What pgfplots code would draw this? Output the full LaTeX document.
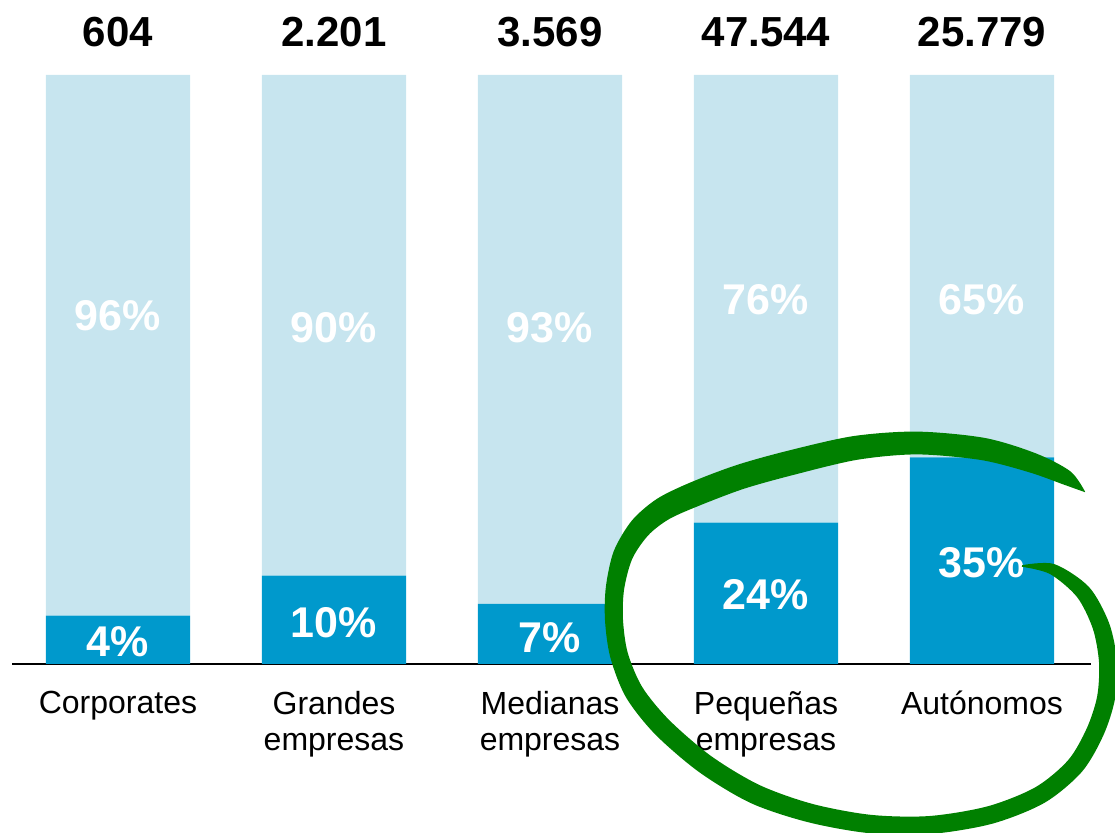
\documentclass[border=0pt]{standalone}
\usepackage{fontspec}
\setmainfont{Liberation Sans}
\usepackage{pgfplots}
\pgfplotsset{compat=1.18}
\usetikzlibrary{calc}

\definecolor{barlo}{RGB}{0,153,204}
\definecolor{barhi}{RGB}{199,229,239}
\definecolor{ringgreen}{RGB}{0,128,0}

\begin{document}
\begin{tikzpicture}[
  pct/.style={font=\bfseries\fontsize{21.5}{21.5}\selectfont, text=white},
  tot/.style={font=\bfseries\fontsize{21}{21}\selectfont, text=black},
]
\useasboundingbox (0,0) rectangle (557.5pt,-416.5pt);
\begin{axis}[
  at={(6pt,-332pt)}, anchor=south west,
  scale only axis, width=539.5pt, height=294.5pt,
  xmin=-0.4907, xmax=4.5046, ymin=0, ymax=100,
  clip=false,
  ybar stacked, bar width=0.667,
  axis x line*=bottom, axis y line=none,
  x axis line style={-, line width=1pt, black},
  xtick={0,...,4}, ytick=\empty,
  major tick length=0pt,
  xticklabels={Corporates, {Grandes\\empresas}, {Medianas\\empresas}, {Pequeñas\\empresas}, Autónomos},
  xticklabel style={align=center, font=\fontsize{16}{18.3}\selectfont, yshift=-10pt},
]
% share of each segment (drawn heights as in the original)
\addplot[fill=barlo, draw=none] coordinates {(0,8.2) (1,15.0) (2,10.2) (3,24.0) (4,35.1)};
\addplot[fill=barhi, draw=none] coordinates {(0,91.8) (1,85.0) (2,89.8) (3,76.0) (4,64.9)};

\coordinate (b0) at (axis cs:0,3.7);
\coordinate (b1) at (axis cs:1,7.0);
\coordinate (b2) at (axis cs:2,4.5);
\coordinate (b3) at (axis cs:3,11.7);
\coordinate (b4) at (axis cs:4,17.2);
\coordinate (t0) at (axis cs:0,59.2);
\coordinate (t1) at (axis cs:1,57.1);
\coordinate (t2) at (axis cs:2,57.1);
\coordinate (t3) at (axis cs:3,61.9);
\coordinate (t4) at (axis cs:4,61.9);

\node[tot] at (axis cs:0,107.3) {604};
\node[tot] at (axis cs:1,107.3) {2.201};
\node[tot] at (axis cs:2,107.3) {3.569};
\node[tot] at (axis cs:3,107.3) {47.544};
\node[tot] at (axis cs:4,107.3) {25.779};
\end{axis}

\node[pct] at (b0) {4\%};
\node[pct] at (b1) {10\%};
\node[pct] at (b2) {7\%};
\node[pct] at (b3) {24\%};
\node[pct] at (b4) {35\%};
\node[pct] at (t0) {96\%};
\node[pct] at (t1) {90\%};
\node[pct] at (t2) {93\%};
\node[pct] at (t3) {76\%};
\node[pct] at (t4) {65\%};

% hand-drawn green loop, pixel grid of the original (origin top left)
\begin{scope}[x=0.5pt, y=-0.5pt]
\foreach \i/\x/\y in {1/1022/566, 2/1052/569, 3/1083/592, 4/1101/626, 5/1108/662,
  6/1106/698, 7/1095/732, 8/1075/766, 9/1040/795, 10/990/815, 11/930/825,
  12/870/824, 13/810/813, 14/755/794, 15/705/764, 16/662/727, 17/634/692,
  18/619/655, 19/614/620, 20/615/588, 21/623/555, 22/640/528, 23/663/509,
  24/695/494, 25/740/477, 26/790/463, 27/855/448, 28/917/443, 29/983/449,
  30/1033/463, 31/1067/478, 32/1085/492}
  \coordinate (c\i) at (\x,\y);
\foreach \i/\p/\n/\w in {1/1/2/0.4, 2/1/3/2.7, 3/2/4/3.9, 4/3/5/4.3, 5/4/6/4.5,
  6/5/7/4.5, 7/6/8/4.5, 8/7/9/4.5, 9/8/10/4.5, 10/9/11/4.5, 11/10/12/4.5,
  12/11/13/4.6, 13/12/14/4.7, 14/13/15/5, 15/14/16/5, 16/15/17/5, 17/16/18/4.8,
  18/17/19/4.5, 19/18/20/4.5, 20/19/21/4.6, 21/20/22/5, 22/21/23/5.5,
  23/22/24/5.9, 24/23/25/6.2, 25/24/26/6.2, 26/25/27/6.2, 27/26/28/6, 28/27/29/5.7,
  29/28/30/5.6, 30/29/31/5, 31/30/32/3.7, 32/31/32/0.1} {
  \coordinate (nl\i) at ($(c\p)!\w pt!90:(c\n)$);
  \coordinate (nr\i) at ($(c\p)!\w pt!-90:(c\n)$);
  \coordinate (L\i) at ($(c\i)+(nl\i)-(c\p)$);
  \coordinate (R\i) at ($(c\i)+(nr\i)-(c\p)$);
}
\fill[ringgreen] plot[smooth] coordinates {(L1) (L2) (L3) (L4) (L5) (L6) (L7) (L8)
  (L9) (L10) (L11) (L12) (L13) (L14) (L15) (L16) (L17) (L18) (L19) (L20) (L21)
  (L22) (L23) (L24) (L25) (L26) (L27) (L28) (L29) (L30) (L31) (L32)}
  -- plot[smooth] coordinates {(R32) (R31) (R30) (R29) (R28) (R27) (R26) (R25)
  (R24) (R23) (R22) (R21) (R20) (R19) (R18) (R17) (R16) (R15) (R14) (R13) (R12)
  (R11) (R10) (R9) (R8) (R7) (R6) (R5) (R4) (R3) (R2) (R1)} -- cycle;
\end{scope}
\end{tikzpicture}
\end{document}
